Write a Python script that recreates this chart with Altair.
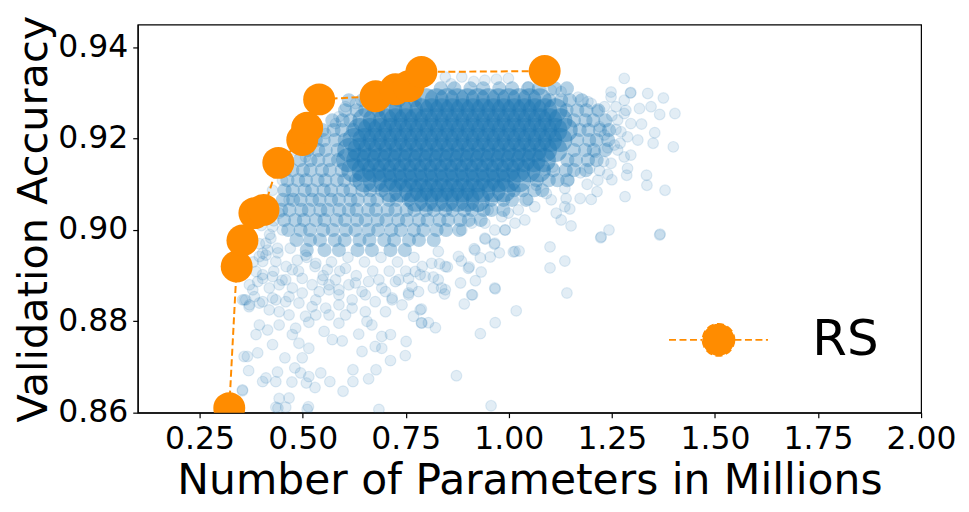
import altair as alt
import pandas as pd

# ---------------- data ----------------
# Pareto front of random search (orange)
front_x = [0.322, 0.340, 0.354, 0.383, 0.405, 0.441, 0.499, 0.511, 0.540, 0.677, 0.725, 0.757, 0.788, 1.087]
front_y = [0.8610, 0.8920, 0.8977, 0.9037, 0.9044, 0.9147, 0.9197, 0.9224, 0.9286, 0.9293, 0.9308, 0.9315, 0.9346, 0.9348]

# dense core of the sampled architectures (rows of accuracy, params per row)
core_rows_y = [0.9284, 0.9262, 0.9240, 0.9219, 0.9197, 0.9175, 0.9153, 0.9131, 0.9109, 0.9087, 0.9066]
core_rows_x = [
    [0.80, 0.825, 0.85, 0.875, 0.90, 0.925, 0.95, 0.975, 1.00, 1.025, 1.05, 1.075],
    [0.713, 0.738, 0.763, 0.788, 0.813, 0.838, 0.863, 0.888, 0.913, 0.938, 0.963, 0.988, 1.013, 1.038, 1.063, 1.088, 1.113],
    [0.65, 0.675, 0.70, 0.725, 0.75, 0.775, 0.80, 0.825, 0.85, 0.875, 0.90, 0.925, 0.95, 0.975, 1.00, 1.025, 1.05, 1.075, 1.10, 1.125],
    [0.638, 0.663, 0.688, 0.713, 0.738, 0.763, 0.788, 0.813, 0.838, 0.863, 0.888, 0.913, 0.938, 0.963, 0.988, 1.013, 1.038, 1.063, 1.088, 1.113, 1.138],
    [0.625, 0.65, 0.675, 0.70, 0.725, 0.75, 0.775, 0.80, 0.825, 0.85, 0.875, 0.90, 0.925, 0.95, 0.975, 1.00, 1.025, 1.05, 1.075, 1.10, 1.125],
    [0.613, 0.638, 0.663, 0.688, 0.713, 0.738, 0.763, 0.788, 0.813, 0.838, 0.863, 0.888, 0.913, 0.938, 0.963, 0.988, 1.013, 1.038, 1.063, 1.088, 1.113],
    [0.61, 0.635, 0.66, 0.685, 0.71, 0.735, 0.76, 0.785, 0.81, 0.835, 0.86, 0.885, 0.91, 0.935, 0.96, 0.985, 1.01, 1.035, 1.06, 1.085],
    [0.623, 0.648, 0.673, 0.698, 0.723, 0.748, 0.773, 0.798, 0.823, 0.848, 0.873, 0.898, 0.923, 0.948, 0.973, 0.998, 1.023, 1.048, 1.073],
    [0.65, 0.675, 0.70, 0.725, 0.75, 0.775, 0.80, 0.825, 0.85, 0.875, 0.90, 0.925, 0.95, 0.975, 1.00, 1.025],
    [0.713, 0.738, 0.763, 0.788, 0.813, 0.838, 0.863, 0.888, 0.913, 0.938, 0.963, 0.988],
    [0.775, 0.80, 0.825, 0.85, 0.875, 0.90, 0.925],
]

# medium-density halo around the core
mid_rows_y = [0.9310, 0.9284, 0.9262, 0.9240, 0.9219, 0.9197, 0.9175, 0.9153, 0.9131, 0.9109,
              0.9087, 0.9066, 0.9044, 0.9022, 0.9000, 0.8978, 0.8956]
mid_rows_x = [
    [0.835, 0.868, 0.907, 0.938, 0.977, 1.008, 1.047, 1.073, 1.112, 1.141],
    [0.612, 0.645, 0.702, 0.733, 0.772, 1.098, 1.127, 1.148, 1.177],
    [0.603, 0.631, 0.652, 0.683, 1.14, 1.166, 1.188, 1.217],
    [0.572, 0.597, 0.616, 1.158, 1.186, 1.205, 1.234],
    [0.548, 0.575, 0.595, 0.622, 1.172, 1.193, 1.221, 1.243],
    [0.532, 0.551, 0.579, 0.602, 1.166, 1.195, 1.213, 1.241],
    [0.512, 0.538, 0.556, 0.585, 1.158, 1.185, 1.206, 1.234],
    [0.493, 0.519, 0.538, 0.565, 0.586, 1.142, 1.163, 1.192, 1.213],
    [0.475, 0.501, 0.519, 0.547, 0.566, 0.595, 1.108, 1.138, 1.158, 1.187],
    [0.463, 0.489, 0.508, 0.536, 0.555, 0.583, 0.601, 0.629, 1.068, 1.097, 1.118, 1.142],
    [0.456, 0.476, 0.505, 0.523, 0.551, 0.569, 0.598, 0.616, 0.645, 0.664, 0.692, 1.012, 1.033, 1.062, 1.081],
    [0.452, 0.477, 0.495, 0.523, 0.541, 0.569, 0.588, 0.616, 0.634, 0.663, 0.681, 0.709, 0.728, 0.757,
     0.958, 0.987, 1.008, 1.042],
    [0.448, 0.468, 0.497, 0.515, 0.543, 0.561, 0.589, 0.612, 0.631, 0.659, 0.678, 0.706, 0.725, 0.752,
     0.771, 0.799, 0.818, 0.846, 0.864, 0.892, 0.911, 0.939, 0.958, 0.987],
    [0.455, 0.482, 0.503, 0.532, 0.553, 0.582, 0.603, 0.632, 0.653, 0.682, 0.703, 0.732, 0.753, 0.782,
     0.803, 0.832, 0.853, 0.882, 0.903, 0.932],
    [0.465, 0.495, 0.518, 0.55, 0.573, 0.605, 0.628, 0.66, 0.683, 0.715, 0.738, 0.77, 0.793, 0.825,
     0.848, 0.88],
    [0.485, 0.518, 0.542, 0.578, 0.602, 0.638, 0.662, 0.698, 0.722, 0.758, 0.782, 0.818],
    [0.51, 0.553, 0.588, 0.633, 0.668, 0.713, 0.748],
]

# individually visible sampled architectures (params, accuracy)
sparse_right = [
    (1.280, 0.9332), (1.248, 0.9302), (1.296, 0.9301), (1.337, 0.9299), (1.375, 0.9289), (1.403, 0.9255),
    (1.366, 0.9253), (1.345, 0.9270), (1.317, 0.9266), (1.284, 0.9262), (1.280, 0.9284), (1.248, 0.9291),
    (1.296, 0.9233), (1.322, 0.9232), (1.354, 0.9213), (1.350, 0.9190), (1.399, 0.9182), (1.313, 0.9197),
    (1.288, 0.9204), (1.272, 0.9215), (1.256, 0.9186), (1.264, 0.9175), (1.296, 0.9164), (1.280, 0.9160),
    (1.248, 0.9146), (1.288, 0.9135), (1.286, 0.9120), (1.334, 0.9120), (1.335, 0.9098), (1.379, 0.9087),
    (1.282, 0.9073), (1.240, 0.9122), (1.216, 0.9109), (1.214, 0.9084), (1.174, 0.9125), (1.196, 0.9135),
    (1.146, 0.9109), (1.136, 0.9091), (1.173, 0.9069), (1.200, 0.9067), (1.139, 0.9069), (1.136, 0.9051),
    (1.148, 0.9046), (1.127, 0.9022), (1.151, 0.9009), (1.103, 0.9066), (1.115, 0.9037), (1.224, 0.8985),
    (1.243, 0.9000), (1.367, 0.8991), (1.232, 0.9208), (1.220, 0.9226), (1.264, 0.9241), (1.280, 0.9255),
    (1.232, 0.9270), (1.200, 0.9277), (1.216, 0.9262), (1.295, 0.9300), (1.25, 0.925), (1.26, 0.922),
    (1.24, 0.918), (1.23, 0.915), (1.26, 0.927), (1.27, 0.919), (1.22, 0.913), (1.19, 0.910),
    (1.21, 0.917), (1.25, 0.911),
]
sparse_lower_right = [
    (1.100, 0.8963), (1.136, 0.8932), (1.100, 0.8917), (1.141, 0.8862), (1.018, 0.8823), (0.967, 0.8871),
    (0.967, 0.8797), (0.931, 0.8773), (0.873, 0.8681), (0.957, 0.8615), (1.223, 0.8983), (1.366, 0.8989),
    (0.912, 0.8858), (0.892, 0.8838), (0.822, 0.8786), (0.805, 0.8797), (0.788, 0.8797), (0.788, 0.8827),
    (0.844, 0.8860), (0.883, 0.8884), (0.919, 0.8889), (0.933, 0.8908), (0.904, 0.8919), (0.885, 0.8932),
    (0.851, 0.8919), (0.832, 0.8926), (0.817, 0.8897), (0.817, 0.8873), (0.837, 0.8873), (0.916, 0.8959),
    (0.931, 0.8939), (0.955, 0.8941), (0.977, 0.8950), (1.011, 0.8952), (1.025, 0.8954), (0.965, 0.8969),
    (0.943, 0.8980), (1.087, 0.9131), (1.107, 0.9138), (1.067, 0.9098), (1.091, 0.9080), (1.047, 0.9066),
    (1.063, 0.9051), (1.023, 0.9044), (0.999, 0.9037), (1.039, 0.9022), (1.015, 0.9015), (0.983, 0.9029),
    (0.991, 0.9000), (0.966, 0.9000), (0.942, 0.9015), (0.950, 0.9044), (0.926, 0.9051), (0.886, 0.9000),
    (0.910, 0.9015),
]
sparse_top = [
    (0.886, 0.9335), (0.942, 0.9328), (0.999, 0.9332), (0.846, 0.9335), (1.047, 0.9313), (1.103, 0.9306),
    (1.127, 0.9303), (1.168, 0.9291), (1.192, 0.9281), (0.970, 0.9330), (0.915, 0.9325), (0.860, 0.9320),
]
sparse_lower_left = [
    (0.354, 0.8648), (0.369, 0.8692), (0.403, 0.8668), (0.411, 0.8676), (0.439, 0.8689), (0.435, 0.8668),
    (0.474, 0.8667), (0.481, 0.8698), (0.495, 0.8687), (0.515, 0.8679), (0.509, 0.8665), (0.530, 0.8655),
    (0.544, 0.8687), (0.566, 0.8668), (0.443, 0.8631), (0.467, 0.8632), (0.459, 0.8612), (0.435, 0.8612),
    (0.511, 0.8607), (0.598, 0.8647), (0.622, 0.8694), (0.622, 0.8668), (0.660, 0.8674), (0.678, 0.8694),
    (0.685, 0.8607), (0.713, 0.8714), (0.749, 0.8725), (0.751, 0.8756), (0.692, 0.8741), (0.644, 0.8734),
    (0.676, 0.8745), (0.596, 0.8757), (0.572, 0.8760), (0.552, 0.8778), (0.515, 0.8741), (0.499, 0.8720),
    (0.457, 0.8720), (0.427, 0.8749), (0.391, 0.8731), (0.366, 0.8723), (0.387, 0.8771), (0.415, 0.8781),
    (0.443, 0.8792), (0.475, 0.8771), (0.491, 0.8752), (0.515, 0.8798), (0.588, 0.8796), (0.636, 0.8772),
    (0.668, 0.8792), (0.692, 0.8767), (0.713, 0.8771), (0.785, 0.8825), (0.769, 0.8811), (0.789, 0.8796),
    (0.741, 0.8836), (0.701, 0.8821), (0.656, 0.8800), (0.652, 0.8821), (0.604, 0.8814), (0.564, 0.8814),
    (0.532, 0.8814), (0.507, 0.8811), (0.483, 0.8785), (0.467, 0.8814), (0.443, 0.8821), (0.419, 0.8825),
    (0.395, 0.8792), (0.371, 0.8836), (0.358, 0.8847), (0.383, 0.8854), (0.403, 0.8843), (0.427, 0.8851),
    (0.459, 0.8843), (0.491, 0.8840), (0.523, 0.8832), (0.556, 0.8829), (0.588, 0.8836), (0.620, 0.8829),
    (0.676, 0.8843), (0.717, 0.8851), (0.757, 0.8858), (0.781, 0.8865), (0.371, 0.8880), (0.403, 0.8894),
    (0.387, 0.8909), (0.411, 0.8945), (0.435, 0.8931), (0.419, 0.8873), (0.443, 0.8880), (0.475, 0.8873),
    (0.499, 0.8894), (0.523, 0.8880), (0.540, 0.8865), (0.564, 0.8880), (0.588, 0.8858), (0.612, 0.8880),
    (0.644, 0.8865), (0.660, 0.8887), (0.692, 0.8873), (0.725, 0.8887), (0.757, 0.8894), (0.785, 0.8902),
    (0.403, 0.8931), (0.354, 0.8847), (0.370, 0.8832), (0.358, 0.8723), (0.354, 0.8650), (0.411, 0.8971),
    (0.403, 0.8949), (0.391, 0.8887), (0.46, 0.892), (0.49, 0.891), (0.51, 0.894), (0.53, 0.892),
    (0.55, 0.890), (0.57, 0.893), (0.59, 0.891), (0.61, 0.894), (0.63, 0.890), (0.65, 0.893),
    (0.67, 0.891), (0.69, 0.894), (0.71, 0.891), (0.73, 0.893), (0.75, 0.891), (0.77, 0.894),
    (0.79, 0.892), (0.47, 0.896), (0.45, 0.889), (0.43, 0.891), (0.44, 0.895), (0.42, 0.899),
    (0.43, 0.902), (0.42, 0.905), (0.40, 0.901), (0.38, 0.893), (0.395, 0.897), (0.44, 0.861),
    (0.514, 0.8613),
    (0.415, 0.8956), (0.439, 0.8960), (0.403, 0.8902), (0.427, 0.8898), (0.459, 0.8891), (0.475, 0.8913),
    (0.487, 0.8934), (0.507, 0.8945), (0.532, 0.8927), (0.560, 0.8913), (0.548, 0.8891), (0.580, 0.8891),
    (0.604, 0.8916), (0.588, 0.8869), (0.628, 0.8884), (0.652, 0.8858), (0.685, 0.8891), (0.701, 0.8865),
    (0.733, 0.8891), (0.757, 0.8862), (0.773, 0.8909), (0.797, 0.8898), (0.813, 0.8927), (0.829, 0.8953),
    (0.846, 0.8920), (0.878, 0.8942), (0.902, 0.8916), (0.918, 0.8956), (0.942, 0.8982), (0.966, 0.8971),
    (0.991, 0.9000), (1.015, 0.8953), (0.966, 0.8873), (0.910, 0.8858), (0.846, 0.8869), (0.829, 0.8891),
    (0.379, 0.8869), (0.362, 0.8847), (0.395, 0.8840), (0.435, 0.8847), (0.467, 0.8854), (0.499, 0.8862),
    (0.532, 0.8847), (0.564, 0.8869), (0.620, 0.8847), (0.717, 0.8847), (0.765, 0.8876), (0.423, 0.8982),
    (0.451, 0.9000), (0.395, 0.8942),
]
sparse_front = [
    (0.427, 0.9087), (0.451, 0.9109), (0.507, 0.9160), (0.556, 0.9211), (0.580, 0.9233), (0.604, 0.9270),
    (0.628, 0.9277), (0.588, 0.9248), (0.427, 0.9007), (0.443, 0.9037), (0.467, 0.9066), (0.46, 0.913),
    (0.48, 0.9175), (0.53, 0.922), (0.65, 0.9285), (0.70, 0.9285), (0.74, 0.9295),
]

x_ticks = [0.25, 0.50, 0.75, 1.00, 1.25, 1.50, 1.75, 2.00]
y_ticks = [0.86, 0.88, 0.90, 0.92, 0.94]

# ---------------- build tables ----------------
def rows_table(rows_y, rows_x):
    return pd.DataFrame(
        [{"params": x, "acc": y} for y, xs in zip(rows_y, rows_x) for x in xs]
    )

core_df = rows_table(core_rows_y, core_rows_x)
mid_df = rows_table(mid_rows_y, mid_rows_x)
sparse_df = pd.DataFrame(
    sparse_right + sparse_lower_right + sparse_top + sparse_lower_left + sparse_front,
    columns=["params", "acc"],
)
front_df = pd.DataFrame({"params": front_x, "acc": front_y, "method": "RS"})

FONT = "DejaVu Sans"
BLUE = "#1f77b4"
ORANGE = "#ff8c00"

x_enc = alt.X(
    "params:Q",
    scale=alt.Scale(domain=[0.1, 2.0], nice=False, zero=False),
    axis=alt.Axis(
        values=x_ticks, format=".2f", title="Number of Parameters in Millions",
        titleFontSize=42.5, labelFontSize=31.5, labelPadding=6, titlePadding=5,
        labelOverlap=False, labelFlush=False,
    ),
)
y_enc = alt.Y(
    "acc:Q",
    scale=alt.Scale(domain=[0.86, 0.945], nice=False, zero=False),
    axis=alt.Axis(
        values=y_ticks, format=".2f", title="Validation Accuracy",
        titleFontSize=41.5, labelFontSize=31.5, labelPadding=5, titlePadding=2,
        labelOverlap=False, labelFlush=False,
    ),
)

sparse = alt.Chart(sparse_df).mark_circle(
    size=115, color=BLUE, fillOpacity=0.13, stroke=BLUE, strokeOpacity=0.13,
    strokeWidth=1.2, clip=True,
).encode(x=x_enc, y=y_enc)

mid = alt.Chart(mid_df).mark_circle(
    size=200, color=BLUE, fillOpacity=0.33, strokeWidth=0, clip=True,
).encode(x=x_enc, y=y_enc)

core = alt.Chart(core_df).mark_circle(
    size=580, color=BLUE, fillOpacity=0.45, strokeWidth=0, clip=True,
).encode(x=x_enc, y=y_enc)

front_line = alt.Chart(front_df).mark_line(
    color=ORANGE, strokeWidth=2, strokeDash=[7, 3.5], clip=True,
).encode(x=x_enc, y=y_enc, order="params:Q")

legend_symbol = "M-3.1,0H-1M1,0H3.1M1,0A1,1,0,1,1,-1,0A1,1,0,1,1,1,0Z"
front_pts = alt.Chart(front_df).mark_circle(size=1024, opacity=1, clip=True).encode(
    x=x_enc,
    y=y_enc,
    color=alt.Color(
        "method:N",
        scale=alt.Scale(domain=["RS"], range=[ORANGE]),
        legend=alt.Legend(
            title=None, orient="none", legendX=557, legendY=291, padding=0,
            symbolType=legend_symbol, symbolSize=1024, symbolStrokeWidth=1.8,
            symbolDash=[7, 3.5], symbolFillColor=ORANGE, symbolStrokeColor=ORANGE,
            symbolOpacity=1, labelFontSize=50, labelFont=FONT, labelColor="black",
            labelOffset=69,
        ),
    ),
)

chart = (
    alt.layer(sparse, mid, core, front_line, front_pts)
    .properties(
        width=785, height=389,
        padding={"left": 130, "top": 16, "right": 40, "bottom": 90},
        autosize=alt.AutoSizeParams(type="none"),
        background="white",
    )
    .configure_axis(
        labelFont=FONT, titleFont=FONT, labelColor="black", titleColor="black",
        titleFontWeight="normal", grid=False, tickColor="black", domainColor="black",
        tickSize=5, tickWidth=1.2, domainWidth=1.2,
    )
    .configure_view(stroke="black", strokeWidth=1.2)
)

chart.save("out.html", embed_options={"renderer": "svg", "actions": False})
